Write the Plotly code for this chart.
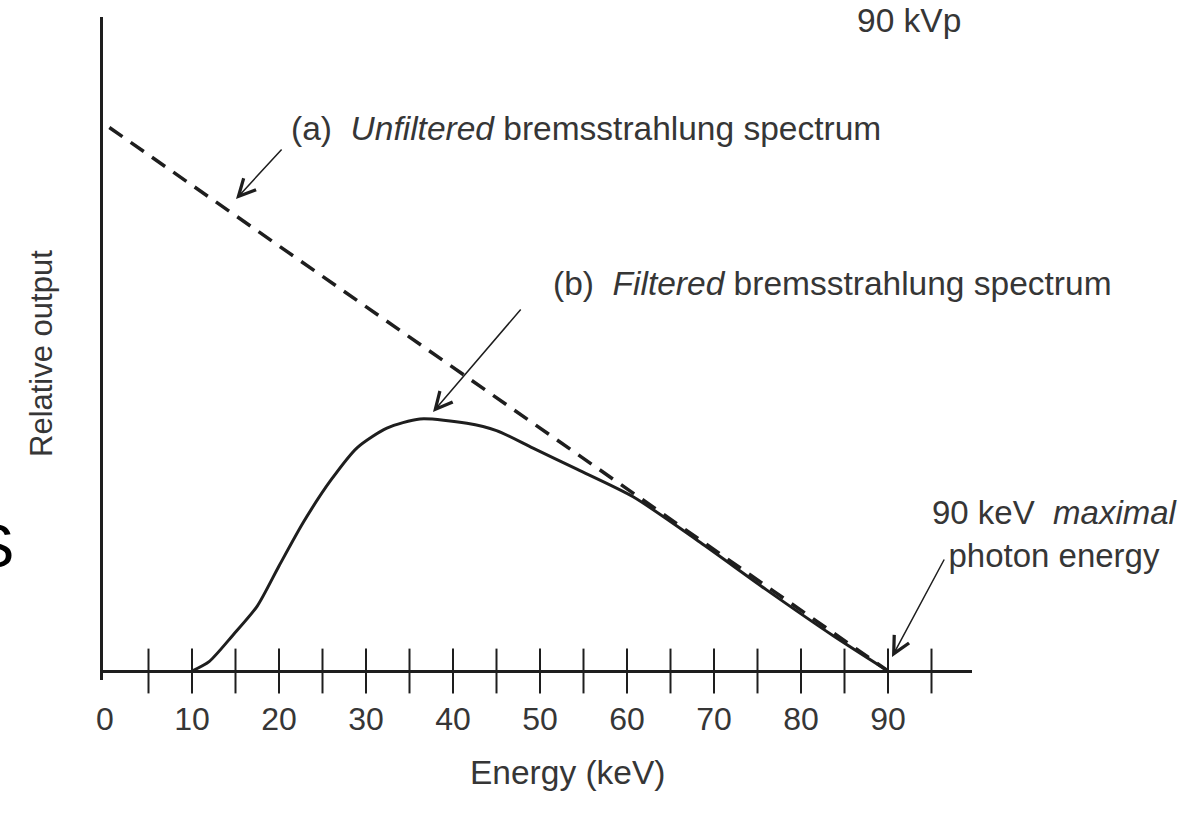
import plotly.graph_objects as go

# Energies (keV) and relative output
unfiltered_energy = [0.5, 90]
unfiltered_output = [89.5, 0]

filtered_energy = [10, 12, 14.7, 17.5, 20, 22.8, 26, 29, 32.4, 36.2, 41.6,
                   45, 49.2, 54.3, 60.7, 68.4, 76, 83.7, 90]
filtered_output = [0, 1.6, 5.9, 10.7, 17.3, 24.5, 31.5, 36.8, 40.0, 41.5, 40.8,
                   39.6, 36.7, 33.2, 28.7, 21.2, 13.4, 5.8, 0]

tick_marks = [5, 10, 15, 20, 25, 30, 35, 40, 45, 50, 55, 60, 65, 70, 75, 80, 85, 90, 95]
tick_label_vals = [0, 10, 20, 30, 40, 50, 60, 70, 80, 90]
tick_label_text = ["0", "10", "20", "30", "40", "50", "60", "70", "80", "90"]

W, H = 1192, 818
L, R, T, B = 103, 972, 17, 680
FONT = "Liberation Sans, Arial, sans-serif"
TXT = "#363636"
INK = "#1e1e1e"


def px(xp):
    return (xp - L) / (R - L)


def py(yp):
    return (B - yp) / (B - T)


fig = go.Figure()

fig.add_trace(go.Scatter(
    x=unfiltered_energy, y=unfiltered_output, mode="lines",
    line=dict(color=INK, width=3.5, dash="16px,10px"),
    hoverinfo="skip", showlegend=False))

fig.add_trace(go.Scatter(
    x=filtered_energy, y=filtered_output, mode="lines",
    line=dict(color=INK, width=3, shape="spline", smoothing=0.7),
    hoverinfo="skip", showlegend=False))

# tick marks crossing the energy axis
fig.add_trace(go.Scatter(
    x=tick_marks, y=[0] * len(tick_marks), mode="markers",
    marker=dict(symbol="line-ns", size=32, line=dict(color=INK, width=2)),
    hoverinfo="skip", showlegend=False, cliponaxis=False))

annotations = [
    dict(text="90 kVp", x=px(855), y=py(21), xanchor="left", yanchor="middle", size=33.5),
    dict(text="(a)\u00a0\u00a0<i>Unfiltered</i> bremsstrahlung spectrum",
         x=px(289), y=py(129), xanchor="left", yanchor="middle", size=33.5),
    dict(text="(b)\u00a0\u00a0<i>Filtered</i> bremsstrahlung spectrum",
         x=px(551), y=py(283), xanchor="left", yanchor="middle", size=33.5),
    dict(text="90 keV\u00a0\u00a0<i>maximal</i><br>photon energy",
         x=px(1055), y=py(534), xanchor="center", yanchor="middle", align="center", size=33),
    dict(text="Relative output", x=px(41), y=py(354), textangle=-90,
         xanchor="center", yanchor="middle", size=31),
    dict(text="Energy (keV)", x=px(568), y=py(772), xanchor="center", yanchor="middle",
         size=33.5),
]
for a in annotations:
    size = a.pop("size")
    a.update(xref="paper", yref="paper", showarrow=False,
             font=dict(family=FONT, size=size, color=TXT))
    fig.add_annotation(**a)

fig.add_annotation(text="S", xref="paper", yref="paper", x=px(16), y=py(545),
                   xanchor="right", yanchor="middle", showarrow=False,
                   font=dict(family=FONT, size=62, color="#000000"))

# pointer arrows
for tip, tail in [((236, 199), (283, 148)), ((433, 412), (522, 308)), ((892, 657), (945, 558))]:
    fig.add_annotation(text="", xref="paper", yref="paper", x=px(tip[0]), y=py(tip[1]),
                       ax=tail[0] - tip[0], ay=tail[1] - tip[1], showarrow=True,
                       arrowhead=5, arrowsize=2.2, arrowwidth=1.5, arrowcolor=INK)

fig.update_layout(
    width=W, height=H,
    margin=dict(l=L, r=W - R, t=T, b=H - B),
    paper_bgcolor="white", plot_bgcolor="white",
    xaxis=dict(range=[(L - 105) / 8.7, (R - 105) / 8.7], showgrid=False, zeroline=False,
               showline=False, ticks="", tickvals=tick_label_vals, ticktext=tick_label_text,
               tickfont=dict(family=FONT, size=32, color=TXT), ticklabelstandoff=17),
    yaxis=dict(range=[-1.48, 107.7], showgrid=False, showticklabels=False,
               showline=True, linecolor=INK, linewidth=2.5,
               zeroline=True, zerolinecolor=INK, zerolinewidth=2.5),
)

fig.write_html("out.html")
